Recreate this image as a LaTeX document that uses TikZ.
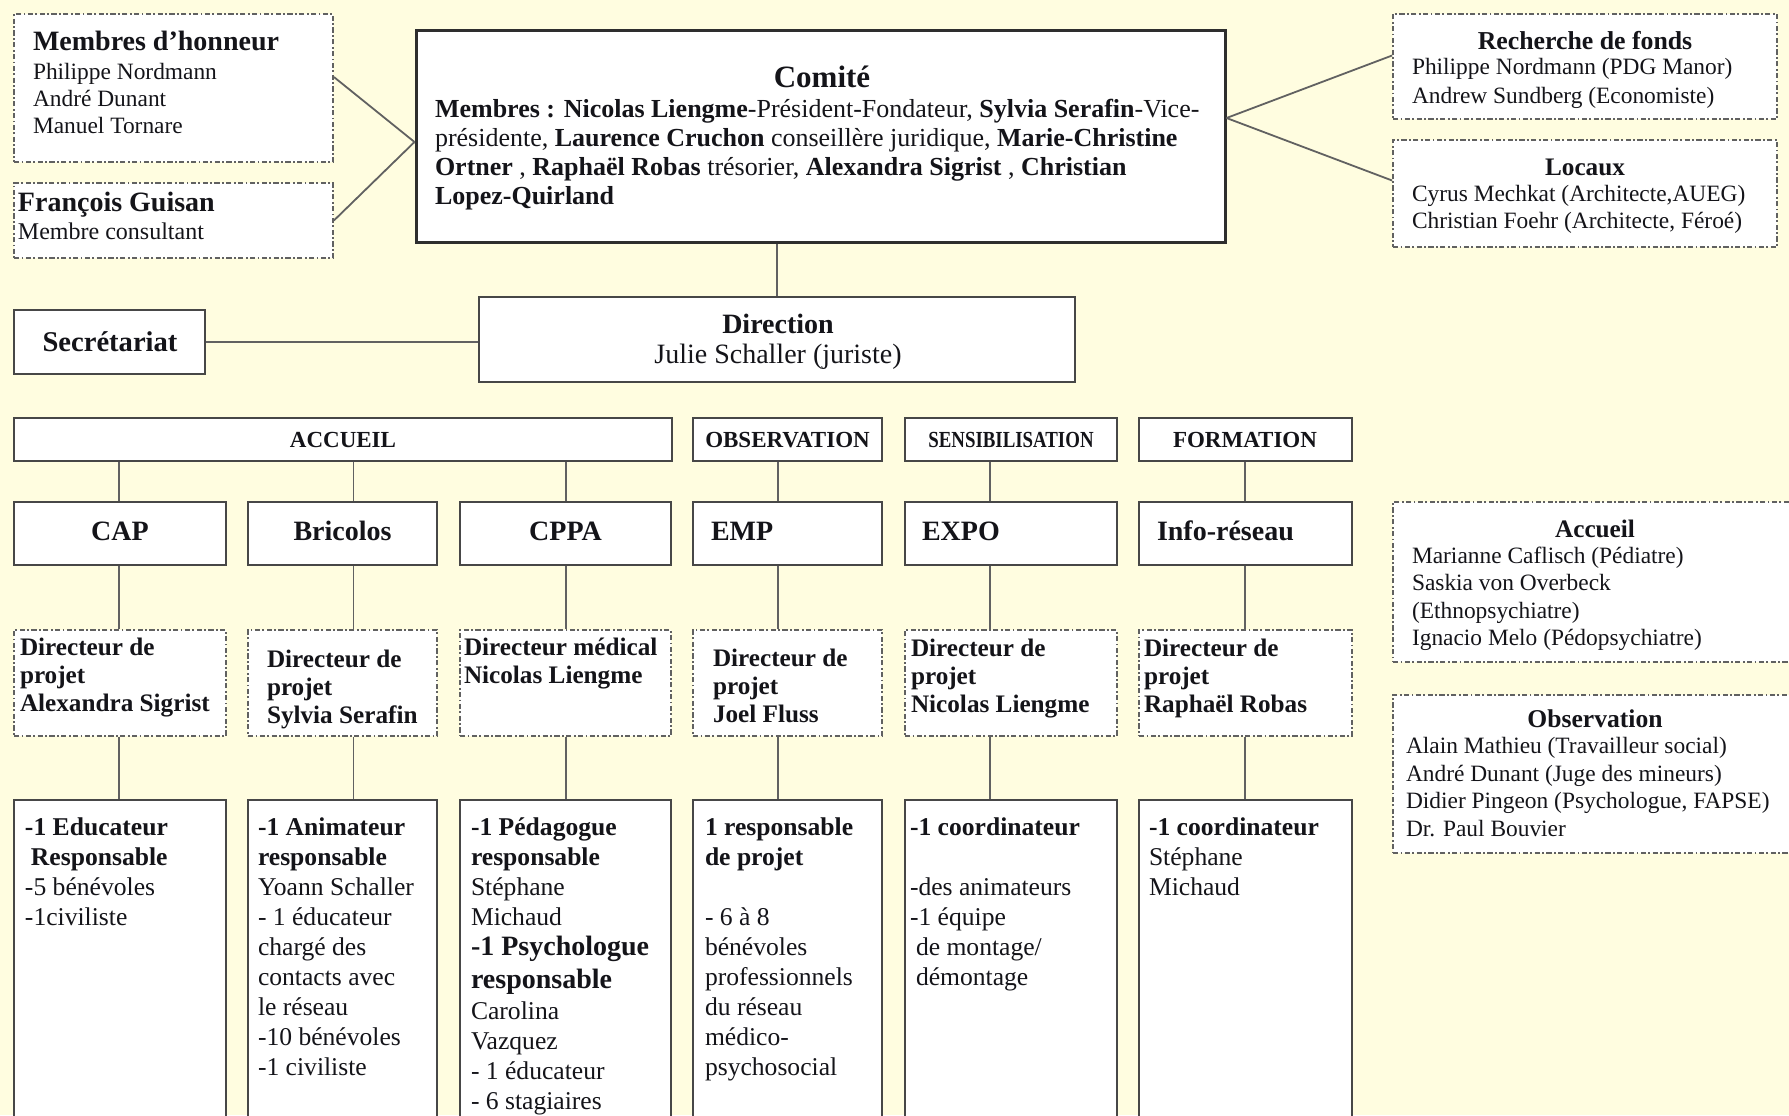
\documentclass[tikz,border=0pt]{standalone}
\usepackage{fontspec}
\setmainfont{Liberation Serif}
\usepackage{graphicx}
\usetikzlibrary{fit}
\definecolor{bgc}{RGB}{255,253,224}
\definecolor{txtc}{RGB}{20,20,25}
\newcommand\fsz[2]{\fontsize{#1}{#2}\selectfont}
\newcommand\ltab[1]{\begin{tabular}[t]{@{}l@{}}#1\end{tabular}}
\newcommand\ctab[1]{\begin{tabular}[t]{@{}c@{}}#1\end{tabular}}
\tikzset{
  solidbox/.style={draw=black!72, line width=1pt, fill=white, inner sep=0pt},
  comitebox/.style={draw=black!82, line width=1.5pt, fill=white, inner sep=0pt},
  dashbox/.style={draw=black!62, line width=0.9pt, dash pattern=on 2.6pt off 1.2pt on 0.9pt off 1.2pt, fill=white, inner sep=0pt},
  conn/.style={draw=black!62, line width=0.9pt},
  txt/.style={inner sep=0pt, outer sep=0pt, text=txtc},
  body/.style={txt, anchor=base west, font=\fsz{12.8}{15}},
  dirtxt/.style={txt, anchor=base west, font=\fsz{12.6}{14}\bfseries},
  unittitle/.style={txt, font=\fsz{14}{16}\bfseries},
  cattitle/.style={txt, anchor=base, font=\fsz{11.5}{13}\bfseries},
}
\begin{document}
\begin{tikzpicture}[x=0.5pt, y=-0.5pt]
\useasboundingbox (0,0) rectangle (1789,1115);
\clip (0,0) rectangle (1789,1115);
\fill[bgc] (0,0) rectangle (1789,1115);

% ---------- top boxes ----------
\node[dashbox, fit={(14,14) (333,162)}] (honneur) {};
\node[dashbox, fit={(14,183) (333,258)}] (guisan) {};
\node[comitebox, fit={(416,30) (1225,242)}] (comite) {};
\node[dashbox, fit={(1393,14) (1777,119)}] (fonds) {};
\node[dashbox, fit={(1393,140) (1777,247)}] (locaux) {};

\node[txt, anchor=base west, font=\fsz{11.7}{13.5}] (honneurT) at (33,50)
  {\ltab{{\fsz{14}{13.5}\bfseries Membres d’honneur}\\[1pt]Philippe Nordmann\\André Dunant\\Manuel Tornare}};
\node[txt, anchor=base west, font=\fsz{12}{14}] (guisanT) at (18,211)
  {\ltab{{\fsz{14}{14}\bfseries François Guisan}\\Membre consultant}};

\node[txt, anchor=base, font=\fsz{15.5}{17}\bfseries] (comiteT) at (822,87) {Comité};
\node[txt, anchor=base west, font=\fsz{13}{14.5}] (comiteB) at (435,117)
  {\ltab{\textbf{Membres : Nicolas Liengme}-Président-Fondateur, \textbf{Sylvia Serafin}-Vice-\\
  présidente, \textbf{Laurence Cruchon} conseillère juridique, \textbf{Marie-Christine}\\
  \textbf{Ortner} , \textbf{Raphaël Robas} trésorier, \textbf{Alexandra Sigrist} , \textbf{Christian}\\
  \textbf{Lopez-Quirland}}};

\node[txt, anchor=base, font=\fsz{12.9}{14}\bfseries] (fondsT) at (1585,49) {Recherche de fonds};
\node[txt, anchor=base west, font=\fsz{11.7}{14.5}] (fondsB) at (1412,74.5)
  {\ltab{Philippe Nordmann (PDG Manor)\\Andrew Sundberg (Economiste)}};
\node[txt, anchor=base, font=\fsz{12.6}{14}\bfseries] (locauxT) at (1585,175) {Locaux};
\node[txt, anchor=base west, font=\fsz{11.7}{13.5}] (locauxB) at (1412,201.5)
  {\ltab{Cyrus Mechkat (Architecte,AUEG)\\Christian Foehr (Architecte, Féroé)}};

% connectors top
\draw[conn] ([yshift=5.5pt]honneur.east) -- ([yshift=-3pt]comite.west);
\draw[conn] (guisan.east) -- ([yshift=-3pt]comite.west);
\draw[conn] ([yshift=9pt]comite.east) -- ([yshift=5.5pt]fonds.west);
\draw[conn] ([yshift=9pt]comite.east) -- ([yshift=6.5pt]locaux.west);

% ---------- direction row ----------
\node[solidbox, fit={(14,310) (205,374)}] (secr) {};
\node[solidbox, fit={(479,297) (1075,382)}] (direction) {};
\node[txt, anchor=base, font=\fsz{14.3}{16}\bfseries] (secrT) at (110,351) {Secrétariat};
\node[txt, anchor=base, font=\fsz{14}{15}] (directionT) at (778,333)
  {\ctab{\textbf{Direction}\\Julie Schaller (juriste)}};
\draw[conn] (direction.north) -- (direction.north |- comite.south);
\draw[conn] (secr.east) -- (secr.east -| direction.west);

% ---------- category row ----------
\node[solidbox, fit={(14,418) (672,461)}] (accueil) {};
\node[solidbox, fit={(693,418) (882,461)}] (observation) {};
\node[solidbox, fit={(905,418) (1117,461)}] (sensib) {};
\node[solidbox, fit={(1139,418) (1352,461)}] (formation) {};
\node[cattitle] (accueilT) at (343,447.5) {ACCUEIL};
\node[cattitle] (observationT) at (787.5,447.5) {OBSERVATION};
\node[cattitle] (sensibT) at (1011,447.5) {\scalebox{0.82}[1]{SENSIBILISATION}};
\node[cattitle] (formationT) at (1245,447.5) {FORMATION};

% ---------- unit row ----------
\node[solidbox, fit={(14,502) (226,565)}] (cap) {};
\node[solidbox, fit={(248,502) (437,565)}] (bricolos) {};
\node[solidbox, fit={(460,502) (671,565)}] (cppa) {};
\node[solidbox, fit={(693,502) (882,565)}] (emp) {};
\node[solidbox, fit={(905,502) (1117,565)}] (expo) {};
\node[solidbox, fit={(1139,502) (1352,565)}] (info) {};
\node[unittitle, anchor=base] (capT) at (120,540) {CAP};
\node[unittitle, anchor=base] (bricolosT) at (342.5,540) {Bricolos};
\node[unittitle, anchor=base] (cppaT) at (565.5,540) {CPPA};
\node[unittitle, anchor=base west] (empT) at (711,540) {EMP};
\node[unittitle, anchor=base west] (expoT) at (922,540) {EXPO};
\node[unittitle, anchor=base west] (infoT) at (1157,540) {Info-réseau};

% ---------- directeur row ----------
\node[dashbox, fit={(14,630) (226,736)}] (dcap) {};
\node[dashbox, fit={(248,630) (437,736)}] (dbricolos) {};
\node[dashbox, fit={(460,630) (671,736)}] (dcppa) {};
\node[dashbox, fit={(693,630) (882,736)}] (demp) {};
\node[dashbox, fit={(905,630) (1117,736)}] (dexpo) {};
\node[dashbox, fit={(1139,630) (1352,736)}] (dinfo) {};
\node[dirtxt] (dcapT) at (20,655) {\ltab{Directeur de\\projet\\Alexandra Sigrist}};
\node[dirtxt] (dbricolosT) at (267,667) {\ltab{Directeur de\\projet\\Sylvia Serafin}};
\node[dirtxt] (dcppaT) at (464,655) {\ltab{Directeur médical\\Nicolas Liengme}};
\node[dirtxt] (dempT) at (713,666) {\ltab{Directeur de\\projet\\Joel Fluss}};
\node[dirtxt] (dexpoT) at (911,656) {\ltab{Directeur de\\projet\\Nicolas Liengme}};
\node[dirtxt] (dinfoT) at (1144,656) {\ltab{Directeur de\\projet\\Raphaël Robas}};

% ---------- bottom row ----------
\node[solidbox, fit={(14,800) (226,1130)}] (bcap) {};
\node[solidbox, fit={(248,800) (437,1130)}] (bbricolos) {};
\node[solidbox, fit={(460,800) (671,1130)}] (bcppa) {};
\node[solidbox, fit={(693,800) (882,1130)}] (bemp) {};
\node[solidbox, fit={(905,800) (1117,1130)}] (bexpo) {};
\node[solidbox, fit={(1139,800) (1352,1130)}] (binfo) {};
\node[body] (bcapT) at (25,835)
  {\ltab{\textbf{-1 Educateur}\\\textbf{\hspace{3pt}Responsable}\\-5 bénévoles\\-1civiliste}};
\node[body] (bbricolosT) at (258,835)
  {\ltab{\textbf{-1 Animateur}\\\textbf{responsable}\\Yoann Schaller\\- 1 éducateur\\chargé des\\contacts avec\\le réseau\\-10 bénévoles\\-1 civiliste}};
\node[body] (bcppaT) at (471,835)
  {\ltab{\textbf{-1 Pédagogue}\\\textbf{responsable}\\Stéphane\\Michaud\\{\fsz{14}{16}\bfseries -1 Psychologue}\\[1.5pt]{\fsz{14}{16}\bfseries responsable}\\[0.5pt]Carolina\\Vazquez\\- 1 éducateur\\- 6 stagiaires}};
\node[body] (bempT) at (705,835)
  {\ltab{\textbf{1 responsable}\\\textbf{de projet}\\ \\- 6 à 8\\bénévoles\\professionnels\\du réseau\\médico-\\psychosocial}};
\node[body] (bexpoT) at (910,835)
  {\ltab{\textbf{-1 coordinateur}\\ \\-des animateurs\\-1 équipe\\\hspace{3pt}de montage/\\\hspace{3pt}démontage}};
\node[body] (binfoT) at (1149,835)
  {\ltab{\textbf{-1 coordinateur}\\Stéphane\\Michaud}};

% ---------- vertical connectors ----------
\coordinate (k1) at (119,0);
\coordinate (k2) at (353.5,0);
\coordinate (k3) at (566,0);
\coordinate (k4) at (778,0);
\coordinate (k5) at (990,0);
\coordinate (k6) at (1245,0);
\foreach \k/\cat/\u/\d/\b in {k1/accueil/cap/dcap/bcap, k2/accueil/bricolos/dbricolos/bbricolos, k3/accueil/cppa/dcppa/bcppa, k4/observation/emp/demp/bemp, k5/sensib/expo/dexpo/bexpo, k6/formation/info/dinfo/binfo}{
  \draw[conn] (\k |- \cat.south) -- (\k |- \u.north);
  \draw[conn] (\k |- \u.south) -- (\k |- \d.north);
  \draw[conn] (\k |- \d.south) -- (\k |- \b.north);
}

% ---------- right side boxes ----------
\node[dashbox, fit={(1393,502) (1800,662)}] (raccueil) {};
\node[dashbox, fit={(1393,695) (1800,853)}] (robs) {};
\node[txt, anchor=base, font=\fsz{12.6}{14}\bfseries] (raccueilT) at (1595,537) {Accueil};
\node[txt, anchor=base west, font=\fsz{11.7}{13.7}] (raccueilB) at (1412,563.5)
  {\ltab{Marianne Caflisch (Pédiatre)\\Saskia von Overbeck\\(Ethnopsychiatre)\\Ignacio Melo (Pédopsychiatre)}};
\node[txt, anchor=base, font=\fsz{12.8}{14}\bfseries] (robsT) at (1595,727) {Observation};
\node[txt, anchor=base west, font=\fsz{11.7}{13.8}] (robsB) at (1406,753.5)
  {\ltab{Alain Mathieu (Travailleur social)\\André Dunant (Juge des mineurs)\\Didier Pingeon (Psychologue, FAPSE)\\Dr. Paul Bouvier}};
\end{tikzpicture}
\end{document}
